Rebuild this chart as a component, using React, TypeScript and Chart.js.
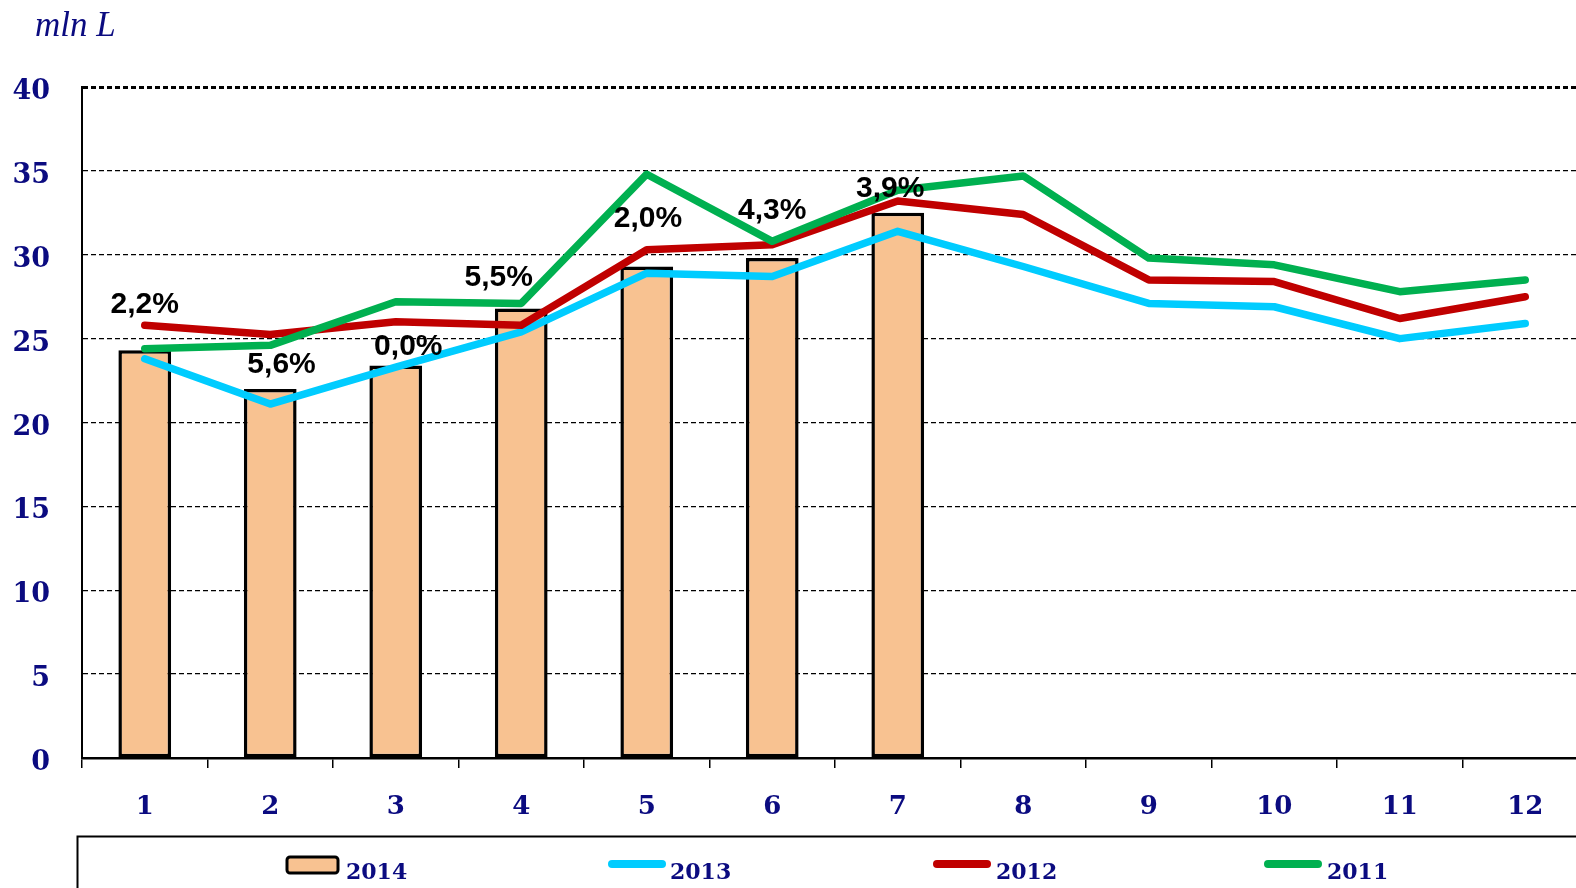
import React, { useEffect, useRef } from "react";
import { Chart, registerables } from "chart.js";

Chart.register(...registerables);

// ---- data ----
const months = ["1", "2", "3", "4", "5", "6", "7", "8", "9", "10", "11", "12"];
const sales2014 = [24.3, 22.0, 23.4, 26.8, 29.3, 29.8, 32.5];
const sales2013 = [23.8, 21.1, 23.3, 25.4, 28.9, 28.7, 31.4, 29.3, 27.1, 26.9, 25.0, 25.9];
const sales2012 = [25.8, 25.25, 26.0, 25.8, 30.3, 30.6, 33.2, 32.4, 28.5, 28.4, 26.2, 27.5];
const sales2011 = [24.4, 24.6, 27.2, 27.1, 34.8, 30.8, 33.85, 34.7, 29.8, 29.4, 27.8, 28.5];
const growthLabels = ["2,2%", "5,6%", "0,0%", "5,5%", "2,0%", "4,3%", "3,9%"];
// vertical anchor of each growth label (in mln L) and horizontal shift (in categories)
const growthLabelLevel = [27.1, 23.5, 24.55, 28.7, 32.2, 32.7, 34.0];
const growthLabelShift = [0.0, 0.09, 0.1, -0.18, 0.01, 0.0, -0.06];
const yMin = 0;
const yMax = 40;
const yStep = 5;
const unitLabel = "mln L";
const seriesNames = ["2014", "2013", "2012", "2011"];

const NAVY = "#0b0b80";
const PEACH = "#F8C291";
const CYAN = "#00CCFF";
const RED = "#C00000";
const GREEN = "#00B050";

const annotationsPlugin = {
  id: "annotations",
  afterDatasetsDraw(chart: any) {
    const ctx = chart.ctx;
    const xs = chart.scales.x;
    const ys = chart.scales.y;
    const cw = xs.getPixelForValue(1) - xs.getPixelForValue(0);
    ctx.save();
    ctx.fillStyle = "#000";
    ctx.font = "bold 30px 'Liberation Sans', Arial, sans-serif";
    ctx.textAlign = "center";
    ctx.textBaseline = "middle";
    growthLabels.forEach((t, i) => {
      const x = xs.getPixelForValue(i) + growthLabelShift[i] * cw;
      const y = ys.getPixelForValue(growthLabelLevel[i]);
      ctx.fillText(t, x, y + 1);
    });
    ctx.restore();
  },
  afterDraw(chart: any) {
    const ctx = chart.ctx;
    ctx.save();
    // unit title
    ctx.fillStyle = NAVY;
    ctx.font = "italic 35px 'Liberation Serif', serif";
    ctx.textAlign = "left";
    ctx.textBaseline = "alphabetic";
    ctx.fillText(unitLabel, 35, 36);

    // legend box
    ctx.strokeStyle = "#000";
    ctx.lineWidth = 2;
    ctx.strokeRect(77.5, 836.5, 1700, 200);

    const ds = chart.data.datasets;
    const items = [
      { sx: 287, tx: 346 },
      { sx: 608, tx: 670 },
      { sx: 933, tx: 996 },
      { sx: 1264, tx: 1327 },
    ];
    ctx.font = "bold 22px 'DejaVu Serif', serif";
    ctx.textBaseline = "alphabetic";
    items.forEach((it, i) => {
      const d = ds[i];
      if (i === 0) {
        ctx.beginPath();
        (ctx as any).roundRect(it.sx, 857, 51, 16, 3);
        ctx.fillStyle = d.backgroundColor;
        ctx.fill();
        ctx.lineWidth = 3;
        ctx.strokeStyle = "#000";
        ctx.stroke();
      } else {
        ctx.beginPath();
        ctx.moveTo(it.sx + 4, 864);
        ctx.lineTo(it.sx + 54, 864);
        ctx.lineWidth = 8;
        ctx.lineCap = "round";
        ctx.strokeStyle = d.borderColor;
        ctx.stroke();
      }
      ctx.fillStyle = NAVY;
      ctx.fillText(seriesNames[i], it.tx, 879);
    });
    ctx.restore();
  },
};

export default function App() {
  const ref = useRef<HTMLCanvasElement | null>(null);

  useEffect(() => {
    if (!ref.current) return;
    const lineStyle = {
      type: "line" as const,
      borderWidth: 7.5,
      pointRadius: 0,
      tension: 0,
      borderCapStyle: "round" as const,
      borderJoinStyle: "round" as const,
    };
    const chart = new Chart(ref.current, {
      type: "bar",
      data: {
        labels: months,
        datasets: [
          {
            type: "bar",
            label: seriesNames[0],
            data: sales2014,
            backgroundColor: PEACH,
            borderColor: "#000",
            borderWidth: 3.5,
            borderSkipped: false,
            barPercentage: 0.42,
            categoryPercentage: 1,
            order: 4,
          } as any,
          {
            ...lineStyle,
            label: seriesNames[1],
            data: sales2013,
            borderColor: CYAN,
            backgroundColor: CYAN,
            order: 3,
          },
          {
            ...lineStyle,
            label: seriesNames[2],
            data: sales2012,
            borderColor: RED,
            backgroundColor: RED,
            order: 2,
          },
          {
            ...lineStyle,
            label: seriesNames[3],
            data: sales2011,
            borderColor: GREEN,
            backgroundColor: GREEN,
            order: 1,
          },
        ],
      },
      options: {
        responsive: false,
        animation: false,
        devicePixelRatio: 1,
        layout: { padding: { left: 0, right: 12, top: 87, bottom: 70 } },
        plugins: {
          legend: { display: false },
          tooltip: { enabled: false },
          title: { display: false },
        },
        scales: {
          x: {
            offset: true,
            grid: {
              offset: true,
              drawOnChartArea: false,
              drawTicks: true,
              tickLength: 10,
              color: "#000",
              lineWidth: 1.5,
            },
            border: { display: true, color: "#000", width: 2.5 },
            ticks: {
              color: NAVY,
              font: { family: "'DejaVu Serif', serif", size: 26, weight: "bold" },
              padding: 24,
              autoSkip: false,
              maxRotation: 0,
            },
            afterFit(scale: any) {
              scale.height = 60;
            },
          },
          y: {
            min: yMin,
            max: yMax,
            grid: {
              drawTicks: false,
              color: "#000",
              lineWidth: (c: any) => (c.tick && c.tick.value === yMax ? 3 : 1.3),
            },
            border: { display: true, color: "#000", width: 2, dash: [5, 3] },
            ticks: {
              stepSize: yStep,
              color: NAVY,
              padding: 32,
              labelOffset: 5,
              font: { family: "'DejaVu Serif', serif", size: 27, weight: "bold" },
            },
            afterFit(scale: any) {
              scale.width = 82;
            },
          },
        },
      },
      plugins: [annotationsPlugin],
    });
    return () => chart.destroy();
  }, []);

  return (
    <div
      style={{
        position: "fixed",
        left: 0,
        top: 0,
        width: 1576,
        height: 888,
        overflow: "hidden",
        background: "#fff",
      }}
    >
      <canvas
        ref={ref}
        width={1600}
        height={888}
        style={{ width: 1600, height: 888, display: "block" }}
      />
    </div>
  );
}
